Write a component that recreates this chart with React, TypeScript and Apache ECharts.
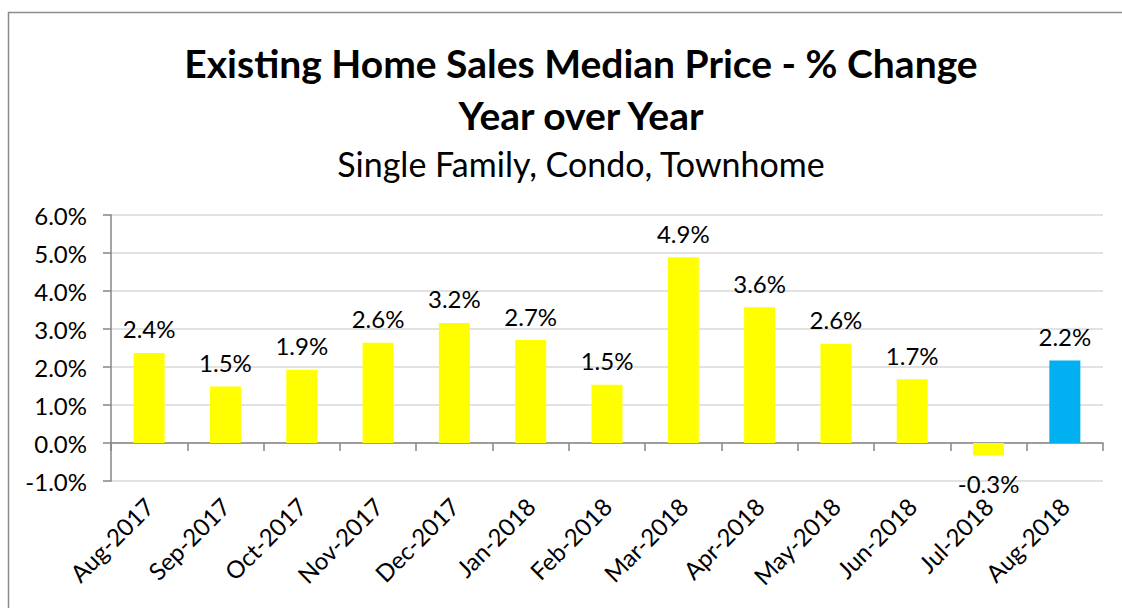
import React, { useEffect, useRef } from "react";
import * as echarts from "echarts";

const categories = [
  "Aug-2017", "Sep-2017", "Oct-2017", "Nov-2017", "Dec-2017", "Jan-2018", "Feb-2018",
  "Mar-2018", "Apr-2018", "May-2018", "Jun-2018", "Jul-2018", "Aug-2018",
];
const values = [2.37, 1.49, 1.93, 2.64, 3.16, 2.71, 1.53, 4.89, 3.57, 2.61, 1.68, -0.33, 2.17];
const barColors = [
  "#FFFF00", "#FFFF00", "#FFFF00", "#FFFF00", "#FFFF00", "#FFFF00", "#FFFF00",
  "#FFFF00", "#FFFF00", "#FFFF00", "#FFFF00", "#FFFF00", "#00B0F0",
];
const titleLine1 = "Existing Home Sales Median Price - % Change";
const titleLine2 = "Year over Year";
const subtitle = "Single Family, Condo, Townhome";
const yMin = -1;
const yMax = 6;
const yInterval = 1;

const FONT = "Lato, 'Open Sans', sans-serif";

export default function App() {
  const ref = useRef<HTMLDivElement>(null);
  useEffect(() => {
    if (!ref.current) return;
    const chart = echarts.init(ref.current, null, { renderer: "svg" });
    const axisGray = "#868686";
    chart.setOption({
      animation: false,
      backgroundColor: "#ffffff",
      textStyle: { fontFamily: FONT },
      graphic: [
        {
          type: "polyline",
          shape: { points: [[8.5, 620], [8.5, 12.5], [1130, 12.5]] },
          style: { stroke: "#8c8c8c", lineWidth: 1.5, fill: null },
          silent: true,
        },
        {
          type: "text",
          x: 581,
          y: 63,
          style: {
            text: titleLine1,
            font: `bold 39px ${FONT}`,
            fill: "#000",
            align: "center",
            verticalAlign: "middle",
          },
        },
        {
          type: "text",
          x: 581,
          y: 115,
          style: {
            text: titleLine2,
            font: `bold 39px ${FONT}`,
            fill: "#000",
            align: "center",
            verticalAlign: "middle",
          },
        },
        {
          type: "text",
          x: 581,
          y: 163,
          style: {
            text: subtitle,
            font: `normal 34px ${FONT}`,
            fill: "#000",
            align: "center",
            verticalAlign: "middle",
          },
        },
      ],
      grid: { left: 111, right: 19, top: 215, bottom: 127, containLabel: false },
      xAxis: [
        {
          type: "category",
          data: categories,
          position: "bottom",
          axisLine: { show: false, onZero: false },
          axisTick: { show: false },
          axisLabel: {
            rotate: 45,
            interval: 0,
            margin: 21,
            fontSize: 24,
            color: "#000",
            fontFamily: FONT,
          },
          splitLine: { show: false },
        },
        {
          type: "category",
          data: categories,
          position: "bottom",
          axisLine: { show: true, onZero: true, lineStyle: { color: axisGray, width: 1.5 } },
          axisTick: { show: true, length: 8, lineStyle: { color: axisGray, width: 1.5 } },
          axisLabel: { show: false },
          splitLine: { show: false },
        },
      ],
      yAxis: {
        type: "value",
        min: yMin,
        max: yMax,
        interval: yInterval,
        axisLine: { show: true, lineStyle: { color: axisGray, width: 1.5 } },
        axisTick: { show: true, length: 8, lineStyle: { color: axisGray, width: 1.5 } },
        axisLabel: {
          formatter: (v: number) => v.toFixed(1) + "%",
          fontSize: 24,
          color: "#000",
          margin: 24,
          fontFamily: FONT,
        },
        splitLine: { show: true, lineStyle: { color: "#d9d9d9", width: 1.5 } },
      },
      series: [
        {
          type: "bar",
          xAxisIndex: 0,
          barWidth: 31,
          data: values.map((v, i) => ({
            value: v,
            itemStyle: { color: barColors[i] },
            label: {
              show: true,
              position: v < 0 ? "bottom" : "top",
              distance: v < 0 ? 16 : 12,
            },
          })),
          label: {
            show: true,
            fontSize: 24,
            color: "#000",
            fontFamily: FONT,
            formatter: (p: any) => Number(p.value).toFixed(1) + "%",
          },
        },
      ],
    });
    return () => chart.dispose();
  }, []);
  return (
    <div
      ref={ref}
      style={{ position: "fixed", left: 0, top: 0, width: 1122, height: 608, background: "#fff" }}
    />
  );
}
